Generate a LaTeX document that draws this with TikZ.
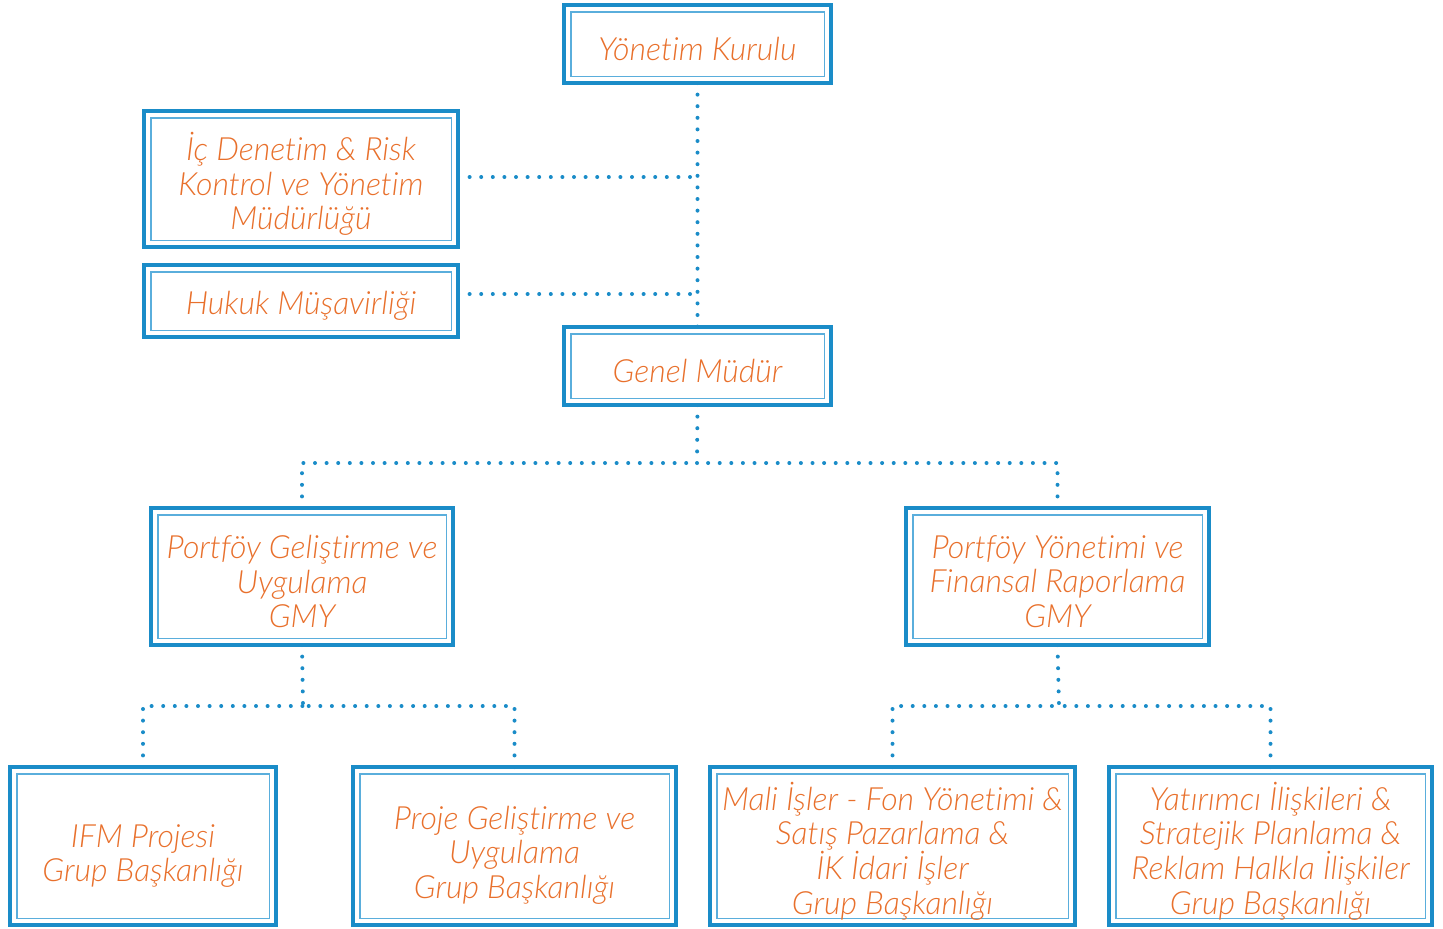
\documentclass[tikz,border=0pt]{standalone}
\usepackage{fontspec}
\IfFontExistsTF{Lato Light}{\setmainfont{Lato Light}[ItalicFont={Lato Light Italic},RawFeature=-liga]}{\setmainfont{Lato}[RawFeature=-liga]}
\definecolor{obl}{HTML}{1A8CC8}
\definecolor{ibl}{HTML}{5AAEDC}
\definecolor{otxt}{HTML}{E8702C}
\tikzset{
  orgbox/.style={draw=obl, line width=2pt, outer sep=0pt, inner sep=0pt},
  orgtxt/.style={align=center, inner sep=0pt, text=otxt, font=\fontsize{16}{17.3}\selectfont\itshape},
  conn/.style={draw=obl, line width=2pt, line cap=round, dash pattern=on 0pt off 5.8pt},
  innerln/.style={draw=ibl, line width=0.7pt}
}
\newcommand{\orgnode}[6]{%
  \node[orgbox, minimum width=#3*0.5pt, minimum height=#4*0.5pt] (#1) at (#2) {};
  \draw[innerln] ([shift={(3.4pt,-3.4pt)}]#1.north west) rectangle ([shift={(-3.4pt,3.4pt)}]#1.south east);
  \node[orgtxt] (#1t) at ([yshift=-#6pt]#1.center) {#5};
}
\begin{document}
\begin{tikzpicture}[x=0.5pt,y=-0.5pt]
\useasboundingbox (0,0) rectangle (1443,928);
\orgnode{yk}{697.5,44}{267}{78}{Yönetim Kurulu}{2.5}
\orgnode{id}{301,179}{314}{136}{İç Denetim \& Risk\\Kontrol ve Yönetim\\Müdürlüğü}{2.5}
\orgnode{hk}{301,301}{314}{72}{Hukuk Müşavirliği}{2.5}
\orgnode{gm}{697.5,366}{267}{78}{Genel Müdür}{2.5}
\orgnode{pg}{302,576.5}{302}{137}{Portföy Geliştirme ve\\Uygulama\\GMY}{2.5}
\orgnode{py}{1057.5,576.5}{303}{137}{Portföy Yönetimi ve\\Finansal Raporlama\\GMY}{2.5}
\orgnode{ifm}{143,846}{266}{158}{IFM Projesi\\Grup Başkanlığı}{5}
\orgnode{pr}{514.5,846}{323}{158}{Proje Geliştirme ve\\Uygulama\\Grup Başkanlığı}{4.5}
\orgnode{ml}{892.5,846}{365}{158}{Mali İşler - Fon Yönetimi \&\\Satış Pazarlama \&\\İK İdari İşler\\Grup Başkanlığı}{2.5}
\orgnode{yt}{1270.5,846}{323}{158}{Yatırımcı İlişkileri \&\\Stratejik Planlama \&\\Reklam Halkla İlişkiler\\Grup Başkanlığı}{2.5}
\coordinate (t1) at (697,177);
\coordinate (t2) at (697,294);
\coordinate (j1) at (697,463);
\coordinate (j2) at (303,706);
\coordinate (j3) at (1059,706);
\draw[conn] (yk.south) -- (gm.north);
\draw[conn] (t1 -| id.east) -- (t1);
\draw[conn] (t2 -| hk.east) -- (t2);
\draw[conn] (gm.south) -- (j1);
\draw[conn] (pg.north) |- (j1);
\draw[conn] (py.north) |- (j1);
\draw[conn] (pg.south) -- (j2);
\draw[conn] (ifm.north) |- (j2);
\draw[conn] (pr.north) |- (j2);
\draw[conn] (py.south) -- (j3);
\draw[conn] (ml.north) |- (j3);
\draw[conn] (yt.north) |- (j3);
\end{tikzpicture}
\end{document}
